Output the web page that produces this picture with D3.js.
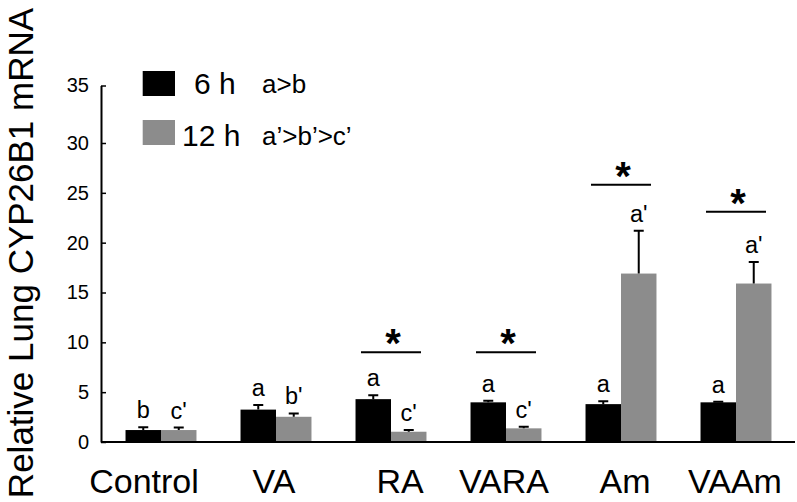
<!DOCTYPE html>
<html>
<head>
<meta charset="utf-8">
<script src="https://cdn.jsdelivr.net/npm/d3@7"></script>
<style>
  html, body { margin: 0; padding: 0; background: #fff; }
  svg { display: block; font-family: "Liberation Sans", Arial, sans-serif; }
</style>
</head>
<body>
<svg id="chart" width="797" height="502"></svg>
<script>
// ---- data ----
const categories = ["Control", "VA", "RA", "VARA", "Am", "VAAm"];
const series = ["6 h", "12 h"];
const values6h = [1.2, 3.25, 4.3, 3.98, 3.8, 3.98];
const err6h = [0.27, 0.45, 0.4, 0.16, 0.3, 0.06];
const values12h = [1.2, 2.53, 1.03, 1.37, 16.9, 15.9];
const err12h = [0.25, 0.34, 0.17, 0.16, 4.3, 2.17];
const letters6h = ["b", "a", "a", "a", "a", "a"];
const letters12h = ["c'", "b'", "c'", "c'", "a'", "a'"];
const sigLevel = [null, null, 9.0, 9.0, 25.8, 23.1];
const yTicks = [0, 5, 10, 15, 20, 25, 30, 35];
const legendNotes = ["a>b", "a\u2019>b\u2019>c\u2019"];
const yTitle = "Relative Lung CYP26B1 mRNA";

// ---- layout ----
const svg = d3.select("#chart");
const colors = ["#000000", "#8c8c8c"];
const font = '"Liberation Sans", Arial, sans-serif';

const x = d3.scaleBand().domain(categories).range([103.5, 793.5])
  .paddingInner(0.383).paddingOuter(0.1915);
const xs = d3.scaleBand().domain(series).range([0, x.bandwidth()]);
const y = d3.scaleLinear().domain([0, 30, 35]).range([442, 143, 85.5]);

// y axis
const yAxis = d3.axisLeft(y).tickValues(yTicks).tickSizeInner(-5).tickSizeOuter(0).tickPadding(12);
const gy = svg.append("g").attr("transform", "translate(101,0)").call(yAxis);
gy.select(".domain").attr("stroke", "#000").attr("stroke-width", 2);
gy.selectAll(".tick line").attr("stroke", "#000").attr("stroke-width", 1.5);
gy.selectAll(".tick text").attr("font-size", 20).attr("font-family", font).attr("fill", "#000");

// bars
const rows = categories.map((c, i) => ({
  c,
  vals: [
    { s: series[0], v: values6h[i], e: err6h[i], l: letters6h[i] },
    { s: series[1], v: values12h[i], e: err12h[i], l: letters12h[i] }
  ]
}));

const g = svg.append("g");
const grp = g.selectAll(".grp").data(rows).join("g")
  .attr("transform", d => `translate(${x(d.c)},0)`);

grp.selectAll("rect").data(d => d.vals).join("rect")
  .attr("x", d => xs(d.s))
  .attr("width", xs.bandwidth())
  .attr("y", d => y(d.v))
  .attr("height", d => y(0) - y(d.v))
  .attr("fill", (d, i) => colors[i]);

// error bars (upper only)
const cap = 5;
grp.selectAll(".err").data(d => d.vals).join("path")
  .attr("class", "err")
  .attr("fill", "none").attr("stroke", "#000").attr("stroke-width", 2)
  .attr("d", d => {
    const cx = xs(d.s) + xs.bandwidth() / 2;
    return `M${cx},${y(d.v)}V${y(d.v + d.e)}M${cx - cap},${y(d.v + d.e)}H${cx + cap}`;
  });

// letters
grp.selectAll(".lbl").data(d => d.vals).join("text")
  .attr("class", "lbl")
  .attr("x", d => xs(d.s) + xs.bandwidth() / 2)
  .attr("y", d => y(d.v + d.e) - 9)
  .attr("text-anchor", "middle")
  .attr("font-size", 23.5)
  .attr("font-family", font)
  .text(d => d.l);

// baseline
svg.append("line").attr("x1", 101).attr("x2", 795)
  .attr("y1", y(0)).attr("y2", y(0))
  .attr("stroke", "#000").attr("stroke-width", 2);

// significance lines
const sig = categories.map((c, i) => ({ c, v: sigLevel[i] })).filter(d => d.v !== null);
svg.selectAll(".sig").data(sig).join("line")
  .attr("x1", d => x(d.c) + x.bandwidth() / 2 - 30)
  .attr("x2", d => x(d.c) + x.bandwidth() / 2 + 30)
  .attr("y1", d => y(d.v)).attr("y2", d => y(d.v))
  .attr("stroke", "#000").attr("stroke-width", 2);
svg.selectAll(".star").data(sig).join("text")
  .attr("x", d => x(d.c) + x.bandwidth() / 2 + 2)
  .attr("y", d => y(d.v) + 5)
  .attr("text-anchor", "middle")
  .attr("font-size", 40).attr("font-weight", "bold")
  .attr("font-family", font)
  .text("*");

// x labels
const labelShift = { Control: -17, RA: 9, Am: 4, VA: -2, VARA: -2, VAAm: -1 };
svg.selectAll(".xl").data(categories).join("text")
  .attr("x", d => x(d) + x.bandwidth() / 2 + (labelShift[d] || 0))
  .attr("y", 493)
  .attr("text-anchor", "middle")
  .attr("font-size", 34)
  .attr("font-family", font)
  .text(d => d);

// y title
svg.append("text")
  .attr("transform", "translate(33,253) rotate(-90)")
  .attr("text-anchor", "middle")
  .attr("font-size", 35)
  .attr("font-family", font)
  .text(yTitle);

// legend
const legY = [71, 120];
const legTextX = [194, 182];
const legBase = [93.5, 145.5];
series.forEach((s, i) => {
  svg.append("rect").attr("x", 142.7).attr("y", legY[i]).attr("width", 32.3).attr("height", 25)
    .attr("fill", colors[i]);
  svg.append("text").attr("x", legTextX[i]).attr("y", legBase[i])
    .attr("font-size", 30).attr("font-family", font).text(s);
  svg.append("text").attr("x", 262).attr("y", legBase[i] - 0.5)
    .attr("font-size", 26).attr("font-family", font).text(legendNotes[i]);
});
</script>
</body>
</html>
